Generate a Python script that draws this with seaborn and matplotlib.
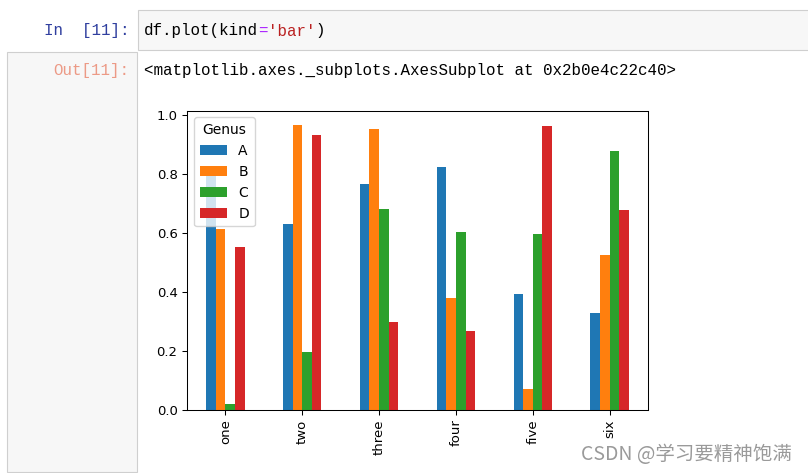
import matplotlib
matplotlib.use("Agg")
import matplotlib.pyplot as plt
from matplotlib.patches import Rectangle
import seaborn as sns
import pandas as pd

# ---- data ----
categories = ["one", "two", "three", "four", "five", "six"]
genus = ["A", "B", "C", "D"]
A = [0.797, 0.632, 0.766, 0.823, 0.393, 0.328]
B = [0.612, 0.967, 0.953, 0.380, 0.071, 0.524]
C = [0.020, 0.198, 0.683, 0.602, 0.598, 0.879]
D = [0.553, 0.931, 0.300, 0.268, 0.963, 0.678]
colors = ["#1f77b4", "#ff7f0e", "#2ca02c", "#d62728"]

in_prompt = "In  [11]:"
out_prompt = "Out[11]:"
code_parts = [("df.plot(kind", "#000000"), ("=", "#AA22FF"), ("'bar'", "#BA2121"), (")", "#000000")]
out_text = "<matplotlib.axes._subplots.AxesSubplot at 0x2b0e4c22c40>"
watermark = "CSDN @学习要精神饱满"

rows = []
for g, vals in zip(genus, [A, B, C, D]):
    for c, v in zip(categories, vals):
        rows.append({"idx": c, "Genus": g, "value": v})
df = pd.DataFrame(rows)

# ---- figure ----
W, H = 808, 473
fig = plt.figure(figsize=(W / 100, H / 100), dpi=100)
fig.patch.set_facecolor("white")

def fx(x):
    return x / W

def fy(y):
    return 1 - y / H

def box(x0, y0, x1, y1, fc="#F7F7F7", ec="#CFCFCF"):
    r = Rectangle((fx(x0), fy(y1)), (x1 - x0) / W, (y1 - y0) / H,
                  transform=fig.transFigure, facecolor=fc, edgecolor=ec,
                  linewidth=0.8, zorder=0)
    fig.add_artist(r)

# notebook cells
box(138, 10, 812, 50)
box(7, 52, 137, 472)

mono = "Liberation Mono"
fsz = 11.4
cw = 9.5
fig.text(fx(129), fy(31), in_prompt, ha="right", va="center", family=mono,
         fontsize=fsz, color="#303F9F")
x = 144
for s, col in code_parts:
    fig.text(fx(x), fy(31), s, ha="left", va="center", family=mono,
             fontsize=fsz, color=col)
    x += cw * len(s)
fig.text(fx(129), fy(71), out_prompt, ha="right", va="center", family=mono,
         fontsize=fsz, color="#EC9A86")
fig.text(fx(144), fy(71), out_text, ha="left", va="center", family=mono,
         fontsize=fsz, color="#000000")

# ---- chart ----
left, right, top, bottom = 187, 648, 110.5, 410
ax = fig.add_axes([fx(left), fy(bottom), (right - left) / W, (bottom - top) / H])
fs = 9.5
sns.barplot(data=df, x="idx", y="value", hue="Genus", order=categories,
            hue_order=genus, palette=colors, width=0.5, gap=0, saturation=1,
            linewidth=0, errorbar=None, ax=ax)
ax.set_xlabel("")
ax.set_ylabel("")
ax.set_xlim(-0.5, 5.5)
ax.tick_params(axis="x", labelrotation=90, labelsize=fs, length=3.3, width=0.75)
ax.tick_params(axis="y", labelsize=fs, length=3.3, width=0.75)
for sp in ax.spines.values():
    sp.set_linewidth(0.75)
    sp.set_color("#000000")
sns.move_legend(ax, "upper left", title="Genus", fontsize=10, title_fontsize=10,
                frameon=True, framealpha=0.8)

fig.text(fx(581), fy(454), watermark, ha="left", va="center",
         family=["Noto Sans CJK SC", "DejaVu Sans"], fontsize=14, color="#9A9A9A")

fig.savefig("out.png", dpi=100)
